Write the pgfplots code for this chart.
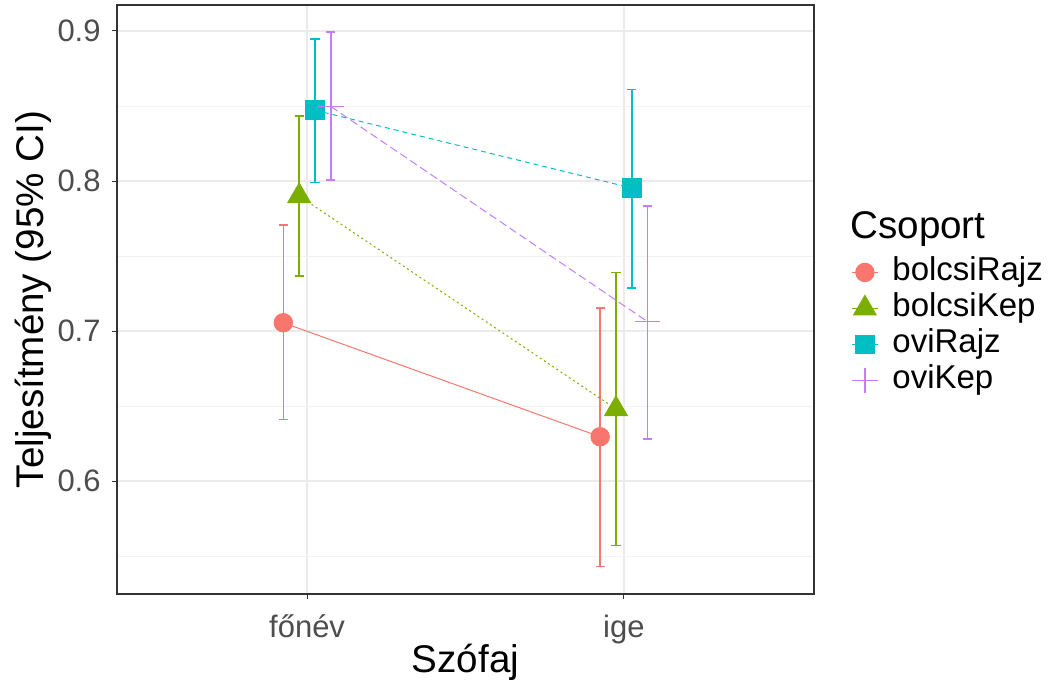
\documentclass[border=0pt]{standalone}
\usepackage{pgfplots}
\usepackage{pgfplotstable}
\pgfplotsset{compat=1.18}
\usepackage{fontspec}
\setmainfont{Liberation Sans}
\definecolor{cR}{HTML}{F8766D}
\definecolor{cK}{HTML}{7CAE00}
\definecolor{cO}{HTML}{00BFC4}
\definecolor{cP}{HTML}{C77CFF}
\definecolor{tickgray}{HTML}{4D4D4D}
\definecolor{border}{HTML}{333333}
\definecolor{gridmaj}{HTML}{EBEBEB}
\definecolor{gridmin}{HTML}{F2F2F2}

\pgfplotstableread{
x y lo hi
0.925 0.7055 0.6411 0.7707
1.925 0.6295 0.5429 0.7155
}\bolcsiRajz
\pgfplotstableread{
x y lo hi
0.975 0.7900 0.7367 0.8435
1.975 0.6480 0.5569 0.7389
}\bolcsiKep
\pgfplotstableread{
x y lo hi
1.025 0.8472 0.7991 0.8947
2.025 0.7953 0.7285 0.8611
}\oviRajz
\pgfplotstableread{
x y lo hi
1.075 0.8496 0.8005 0.8993
2.075 0.7062 0.6282 0.7833
}\oviKep

\begin{document}
\begin{tikzpicture}
\path[use as bounding box] (0,0) rectangle (525pt,341pt);
\begin{axis}[
  at={(58.5pt,44pt)}, anchor=south west,
  scale only axis, width=348.5pt, height=294.5pt,
  xmin=0.4, xmax=2.6, ymin=0.52467, ymax=0.91733,
  xtick={1,2}, xticklabels={főnév, ige},
  ytick={0.6,0.7,0.8,0.9}, minor ytick={0.55,0.65,0.75,0.85},
  xmajorgrids, ymajorgrids, yminorgrids,
  major grid style={color=gridmaj, line width=0.6pt},
  minor grid style={color=gridmin, line width=0.4pt},
  axis line style={color=border, line width=0.6pt},
  tick align=outside, xtick pos=bottom, ytick pos=left,
  major tick length=2.5pt, minor tick length=0pt,
  tick style={color=border, line width=0.5pt},
  /pgf/number format/assume math mode=true,
  yticklabel style={/pgf/number format/fixed, /pgf/number format/precision=1,
     font=\fontsize{15.5}{18}\selectfont, text=tickgray, anchor=east, inner sep=0pt, xshift=-5.5pt},
  xticklabel style={font=\fontsize{15.5}{18}\selectfont, text=tickgray, anchor=base, inner sep=0pt, yshift=-19pt},
  xlabel={Szófaj},
  xlabel style={at={(axis description cs:0.5,0)}, anchor=base, inner sep=0pt, yshift=-39pt, font=\fontsize{19.3}{22}\selectfont},
  ylabel={Teljesítmény (95\% CI)},
  ylabel style={at={(axis description cs:-0.1050,0.5)}, anchor=base, inner sep=0pt, font=\fontsize{19.3}{22}\selectfont},
  clip=false,
  error bars/y dir=both, error bars/y explicit,
  error bars/error mark options={rotate=90, mark size=2.3pt, line width=0.8pt},
  legend image code/.code={\draw[mark repeat=2, mark phase=2, #1, solid] plot coordinates {(0pt,0pt) (6.5pt,0pt) (13pt,0pt)};},
  legend style={at={(1.0531,0.5772)}, anchor=north west, draw=none, fill=none,
     inner sep=0pt, column sep=7pt, row sep=0pt,
     font=\fontsize{16.5}{18}\selectfont,
     nodes={inner xsep=0pt, inner ysep=2pt, text height=11pt, text depth=3pt}},
  legend cell align=left,
]
\addplot[color=cR, line width=0.5pt, mark=*, mark size=4.6pt, mark options={solid},
  error bars/error bar style={solid, line width=0.8pt}]
  table[x=x, y=y, y error plus expr=\thisrow{hi}-\thisrow{y}, y error minus expr=\thisrow{y}-\thisrow{lo}] {\bolcsiRajz};
\addlegendentry{bolcsiRajz}
\addplot[color=cK, line width=0.5pt, dash pattern=on 1pt off 1.5pt, mark=triangle*, mark size=6.5pt, mark options={solid},
  error bars/error bar style={solid, line width=0.8pt}]
  table[x=x, y=y, y error plus expr=\thisrow{hi}-\thisrow{y}, y error minus expr=\thisrow{y}-\thisrow{lo}] {\bolcsiKep};
\addlegendentry{bolcsiKep}
\addplot[color=cO, line width=0.5pt, dash pattern=on 2.5pt off 2pt, mark=square*, mark size=4.7pt, mark options={solid},
  error bars/error bar style={solid, line width=0.8pt}]
  table[x=x, y=y, y error plus expr=\thisrow{hi}-\thisrow{y}, y error minus expr=\thisrow{y}-\thisrow{lo}] {\oviRajz};
\addlegendentry{oviRajz}
\addplot[color=cP, line width=0.5pt, dash pattern=on 4pt off 2pt, mark=+, mark size=6.4pt, mark options={solid, line width=0.6pt},
  error bars/error bar style={solid, line width=0.8pt}]
  table[x=x, y=y, y error plus expr=\thisrow{hi}-\thisrow{y}, y error minus expr=\thisrow{y}-\thisrow{lo}] {\oviKep};
\addlegendentry{oviKep}
\end{axis}
\node[anchor=base west, inner sep=0pt, font=\fontsize{19.3}{22}\selectfont] at (425pt,222pt) {Csoport};
\end{tikzpicture}
\end{document}
